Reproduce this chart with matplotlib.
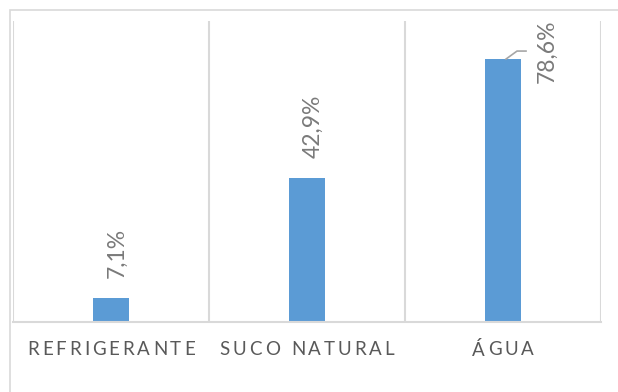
import matplotlib
matplotlib.use("Agg")
import matplotlib.pyplot as plt
from matplotlib.patches import Rectangle
from matplotlib.lines import Line2D

categories = ["REFRIGERANTE", "SUCO NATURAL", "ÁGUA"]
values = [0.071, 0.429, 0.786]
labels = ["7,1%", "42,9%", "78,6%"]

W, H = 618, 392
DPI = 100
fig = plt.figure(figsize=(W / DPI, H / DPI), dpi=DPI)
fig.patch.set_facecolor("white")

FONT = "Lato"
bar_color = "#5B9BD5"
grid_color = "#D9D9D9"
text_color = "#595959"
dl_color = "#7A7A7A"

# outer chart border (partially visible)
fig.add_artist(Rectangle((10 / W, -0.1), 1.2, (H - 10) / H + 0.1,
                         transform=fig.transFigure, fill=False,
                         edgecolor="#D9D9D9", lw=1.2))

ax_left, ax_right = 13, 601
ax_top, ax_bottom = 21, 321.5
ax = fig.add_axes([ax_left / W, (H - ax_bottom) / H,
                   (ax_right - ax_left) / W, (ax_bottom - ax_top) / H])
ax.set_xlim(-0.5, len(categories) - 0.5)
ax.set_ylim(0, 0.9)
for s in ["top", "right", "left"]:
    ax.spines[s].set_visible(False)
ax.spines["bottom"].set_color(grid_color)
ax.spines["bottom"].set_linewidth(1.5)
ax.set_yticks([])
ax.set_xticks([])
for xv in [i - 0.5 for i in range(len(categories) + 1)]:
    ax.axvline(xv, color=grid_color, lw=1.5, zorder=0)

x = list(range(len(categories)))
ax.bar(x, values, width=0.184, color=bar_color, zorder=2)

# data labels
DL_SIZE = 16.5
for i, (v, lab) in enumerate(zip(values, labels)):
    if i < 2:
        ax.annotate(lab, (i, v), xytext=(6, 20), textcoords="offset pixels",
                    rotation=90, ha="center", va="bottom", color=dl_color,
                    fontsize=DL_SIZE, family=FONT)
    else:
        ax.annotate(lab, (i, v), xytext=(44, 8), textcoords="offset pixels",
                    rotation=90, ha="center", va="center", color=dl_color,
                    fontsize=DL_SIZE, family=FONT)
        # leader line
        p0 = ax.transData.transform((i, v))
        pts = [(p0[0] + 3, p0[1]), (p0[0] + 14, p0[1] + 8), (p0[0] + 23, p0[1] + 8)]
        fx = [p[0] / W for p in pts]
        fy = [p[1] / H for p in pts]
        fig.add_artist(Line2D(fx, fy, transform=fig.transFigure,
                              color="#A6A6A6", lw=1.2))

# letter-spaced category labels
fig.canvas.draw()
renderer = fig.canvas.get_renderer()
TL_SIZE = 13.5
tracking = 2.9  # px between letters
label_y = H - 349.5
for i, cat in enumerate(categories):
    widths = []
    for ch in cat:
        t = fig.text(0, 0, ch if ch != " " else "n", fontsize=TL_SIZE,
                     family=FONT)
        bb = t.get_window_extent(renderer)
        widths.append(bb.width if ch != " " else bb.width * 0.5)
        t.remove()
    total = sum(widths) + tracking * (len(cat) - 1)
    cx = ax.transData.transform((i, 0))[0]
    xpos = cx - total / 2
    for ch, w in zip(cat, widths):
        if ch != " ":
            fig.text(xpos / W, label_y / H, ch, fontsize=TL_SIZE, family=FONT,
                     color=text_color, ha="left", va="center")
        xpos += w + tracking

fig.savefig("out.png", dpi=DPI, facecolor="white")
